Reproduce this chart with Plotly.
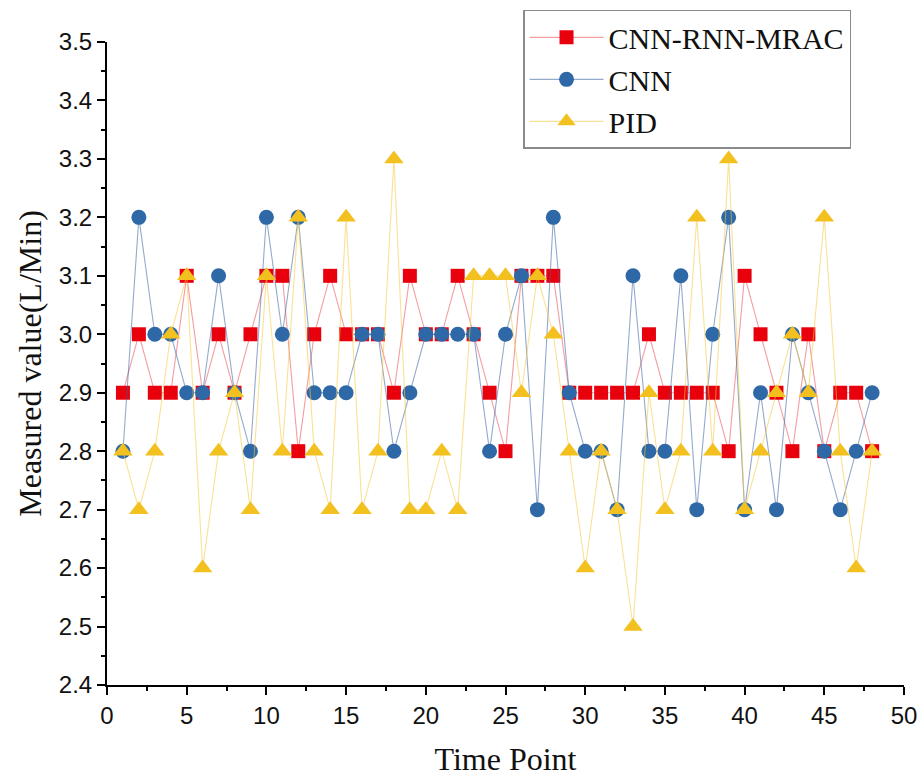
import plotly.graph_objects as go

# Time points 1..48
time_points = list(range(1, 49))

cnn_rnn_mrac = [2.9, 3.0, 2.9, 2.9, 3.1, 2.9, 3.0, 2.9, 3.0, 3.1,
                3.1, 2.8, 3.0, 3.1, 3.0, 3.0, 3.0, 2.9, 3.1, 3.0,
                3.0, 3.1, 3.0, 2.9, 2.8, 3.1, 3.1, 3.1, 2.9, 2.9,
                2.9, 2.9, 2.9, 3.0, 2.9, 2.9, 2.9, 2.9, 2.8, 3.1,
                3.0, 2.9, 2.8, 3.0, 2.8, 2.9, 2.9, 2.8]

cnn = [2.8, 3.2, 3.0, 3.0, 2.9, 2.9, 3.1, 2.9, 2.8, 3.2,
       3.0, 3.2, 2.9, 2.9, 2.9, 3.0, 3.0, 2.8, 2.9, 3.0,
       3.0, 3.0, 3.0, 2.8, 3.0, 3.1, 2.7, 3.2, 2.9, 2.8,
       2.8, 2.7, 3.1, 2.8, 2.8, 3.1, 2.7, 3.0, 3.2, 2.7,
       2.9, 2.7, 3.0, 2.9, 2.8, 2.7, 2.8, 2.9]

pid = [2.8, 2.7, 2.8, 3.0, 3.1, 2.6, 2.8, 2.9, 2.7, 3.1,
       2.8, 3.2, 2.8, 2.7, 3.2, 2.7, 2.8, 3.3, 2.7, 2.7,
       2.8, 2.7, 3.1, 3.1, 3.1, 2.9, 3.1, 3.0, 2.8, 2.6,
       2.8, 2.7, 2.5, 2.9, 2.7, 2.8, 3.2, 2.8, 3.3, 2.7,
       2.8, 2.9, 3.0, 2.9, 3.2, 2.8, 2.6, 2.8]

series_names = ["CNN-RNN-MRAC", "CNN", "PID"]

serif = "Liberation Serif, Times New Roman, serif"
sans = "Liberation Sans, Arial, sans-serif"

fig = go.Figure()

fig.add_trace(go.Scatter(
    x=time_points, y=cnn_rnn_mrac, name=series_names[0], mode="lines+markers",
    line=dict(color="rgba(232,60,70,0.5)", width=1.1),
    marker=dict(symbol="square", size=14, color="#e8000d"),
))
fig.add_trace(go.Scatter(
    x=time_points, y=cnn, name=series_names[1], mode="lines+markers",
    line=dict(color="rgba(60,100,160,0.55)", width=1.1),
    marker=dict(symbol="circle", size=15, color="#2f68a6"),
))
fig.add_trace(go.Scatter(
    x=time_points, y=pid, name=series_names[2], mode="lines+markers",
    line=dict(color="rgba(245,200,60,0.55)", width=1.1),
    marker=dict(symbol="triangle-up", size=17, color="#f3c11f"),
))

fig.update_layout(
    width=922, height=783,
    margin=dict(l=107, r=18, t=42, b=98, autoexpand=False),
    paper_bgcolor="white", plot_bgcolor="white",
    showlegend=True,
    legend=dict(
        x=0.522, y=1.05, xanchor="left", yanchor="top",
        bgcolor="white", bordercolor="#8a8a8a", borderwidth=1.5,
        font=dict(family=serif, size=30, color="#111"),
        itemwidth=74, tracegroupgap=0,
    ),
    xaxis=dict(
        range=[0, 50], dtick=5, tick0=0,
        showgrid=False, zeroline=False,
        showline=True, linecolor="black", linewidth=2,
        ticks="outside", ticklen=8, tickwidth=2, tickcolor="black",
        minor=dict(dtick=2.5, ticks="outside", ticklen=4, tickwidth=1.5, tickcolor="black"),
        tickfont=dict(family=sans, size=24, color="#111"),
        title=dict(text="Time Point", font=dict(family=serif, size=32, color="#111"), standoff=20),
    ),
    yaxis=dict(
        range=[2.4, 3.5], dtick=0.1, tick0=2.4, tickformat=".1f",
        showgrid=False, zeroline=False,
        showline=True, linecolor="black", linewidth=2,
        ticks="outside", ticklen=8, tickwidth=2, tickcolor="black",
        minor=dict(dtick=0.05, ticks="outside", ticklen=4, tickwidth=1.5, tickcolor="black"),
        tickfont=dict(family=sans, size=24, color="#111"),
        title=dict(text="Measured value(L/Min)", font=dict(family=serif, size=32, color="#111"), standoff=8),
    ),
)

fig.write_html("out.html")
